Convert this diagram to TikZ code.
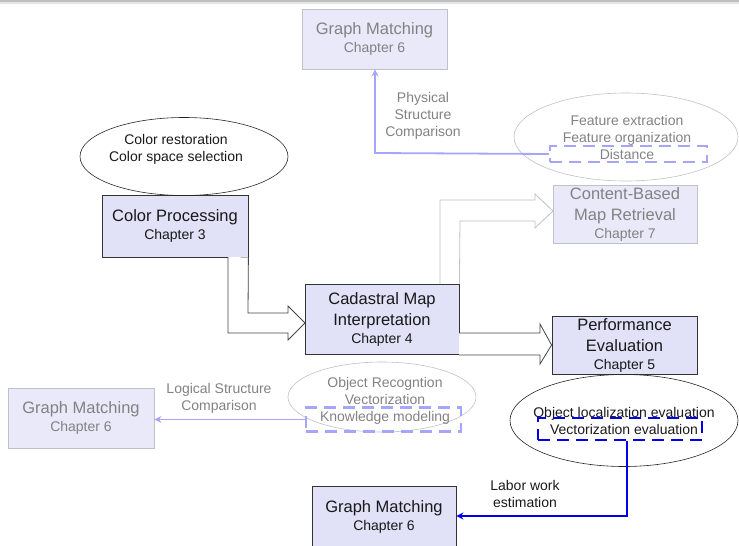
\documentclass[tikz,border=0pt]{standalone}
\usepackage{fontspec}
\setmainfont{Liberation Sans}
\usetikzlibrary{arrows.meta,shapes.geometric}

\definecolor{boxfill}{RGB}{225,225,248}
\definecolor{fadefill}{RGB}{233,233,250}
\definecolor{fadeline}{RGB}{192,192,200}
\definecolor{fadetext}{RGB}{130,130,130}
\definecolor{linkblue}{RGB}{0,0,235}
\definecolor{fadeblue}{RGB}{165,165,250}
\definecolor{arrowgray}{RGB}{70,70,70}

\newcommand\chapline[1]{\\[-3pt]{\fontsize{14}{17}\selectfont #1}}

\tikzset{
  mainbox/.style={draw=black!80, fill=boxfill, line width=0.8pt, align=center,
    inner sep=0pt, font=\fontsize{16.5}{21}\selectfont, text=black!90},
  fadebox/.style={mainbox, draw=fadeline, fill=fadefill, text=fadetext},
  bubble/.style={ellipse, draw=black!85, line width=0.6pt, inner sep=0pt},
  fadebubble/.style={bubble, draw=fadeline},
  dashbox/.style={draw=linkblue, line width=2.6pt, dash pattern=on 12pt off 7pt,
    inner sep=0pt},
  fadedashbox/.style={dashbox, draw=fadeblue, line width=2.3pt},
  hollowarrow/.style={draw=arrowgray, line width=0.8pt, fill=white, line join=miter},
  fadehollow/.style={hollowarrow, draw=fadeline},
  bluelink/.style={draw=linkblue, line width=2.2pt, -{Stealth[length=7pt,width=7pt]}},
  fadelink/.style={draw=fadeblue, line width=1.8pt, -{Stealth[length=7pt,width=7pt]}},
  note/.style={align=center, font=\fontsize{14}{17}\selectfont, text=black!90},
  fadenote/.style={note, text=fadetext}
}

\begin{document}
\begin{tikzpicture}[x=1pt,y=-1pt]
  \useasboundingbox (0,0) rectangle (739,546);
  \clip (0,0) rectangle (739,546);

  % thin grey rule along the top edge
  \fill[black!25] (0,0) rectangle (739,2);
  \fill[black!10] (0,2) rectangle (739,4);

  % ---------- boxes ----------
  \node[fadebox, minimum width=145pt, minimum height=60pt] (gmtop) at (374.5,39)
    {Graph Matching\chapline{Chapter 6}};
  \node[mainbox, minimum width=146pt, minimum height=62pt] (cp) at (175,226)
    {Color Processing\chapline{Chapter 3}};
  \node[fadebox, minimum width=144pt, minimum height=58pt] (cbr) at (625,214)
    {Content-Based\\Map Retrieval\chapline{Chapter 7}};
  \node[mainbox, minimum width=154pt, minimum height=70pt] (cmi) at (382,319)
    {Cadastral Map\\Interpretation\chapline{Chapter 4}};
  \node[mainbox, minimum width=145pt, minimum height=58pt] (pe) at (624.5,345)
    {Performance\\Evaluation\chapline{Chapter 5}};
  \node[fadebox, minimum width=146pt, minimum height=60pt] (gmleft) at (81,418)
    {Graph Matching\chapline{Chapter 6}};
  \node[mainbox, minimum width=144pt, minimum height=62pt] (gmbot) at (384,517)
    {Graph Matching\chapline{Chapter 6}};

  % ---------- ellipses and their contents ----------
  \node[bubble, minimum width=208pt, minimum height=78pt] (ecolor) at (184,156.5) {};
  \node[note] (tcolor) at (176,149.5) {Color restoration\\Color space selection};

  \node[fadebubble, minimum width=224pt, minimum height=88pt] (efeat) at (626,137) {};
  \node[fadenote] (tfeat) at (627,137) {Feature extraction\\Feature organization\\Distance};

  \node[fadebubble, minimum width=188pt, minimum height=70pt] (eobj) at (382,397) {};
  \node[fadenote] (tobj) at (385,400.5) {Object Recogntion\\Vectorization\\Knowledge modeling};

  \node[bubble, minimum width=228pt, minimum height=92pt] (eeval) at (624,420.5) {};
  \node[note] (teval) at (624,420.5) {Object localization evaluation\\Vectorization evaluation};

  % ---------- dashed highlights ----------
  \node[fadedashbox, minimum width=157pt, minimum height=16pt] (hdist) at (628.5,154) {};
  \node[fadedashbox, minimum width=155pt, minimum height=24pt] (hknow) at (383.5,419.5) {};
  \node[dashbox, minimum width=164pt, minimum height=22pt] (hvect) at (620,429) {};

  % ---------- hollow block arrows ----------
  \draw[hollowarrow] (cp.south east) -- (248,313) -- (288,313) -- (288,306)
    -- (305,323) -- (288,340) -- (288,333) -- (228,333) -- (228,257);
  \draw[fadehollow] (cmi.north east) -- (460,221) -- (535,221) -- (535,228)
    -- (553,211) -- (535,194) -- (535,200) -- (440,200) -- (440,284);
  \draw[hollowarrow] (459,333) -- (540,333) -- (540,324) -- (pe.west)
    -- (540,364) -- (540,355) -- (459,355);

  % ---------- links ----------
  \draw[fadelink] (hdist.west) -- (375,153) -- (gmtop.south -| 375,0);
  \draw[fadelink] (hknow.west) -- (gmleft.east |- hknow.west);
  \draw[bluelink] (hvect.south -| 627,0) -- (627,516) -- (gmbot.east |- 0,516);

  % ---------- link labels ----------
  \node[fadenote] (lphys) at (423,115.5) {Physical\\Structure\\Comparison};
  \node[fadenote] (llog) at (219,398) {Logical Structure\\Comparison};
  \node[note] (llabor) at (525,493.5) {Labor work\\estimation};
\end{tikzpicture}
\end{document}
